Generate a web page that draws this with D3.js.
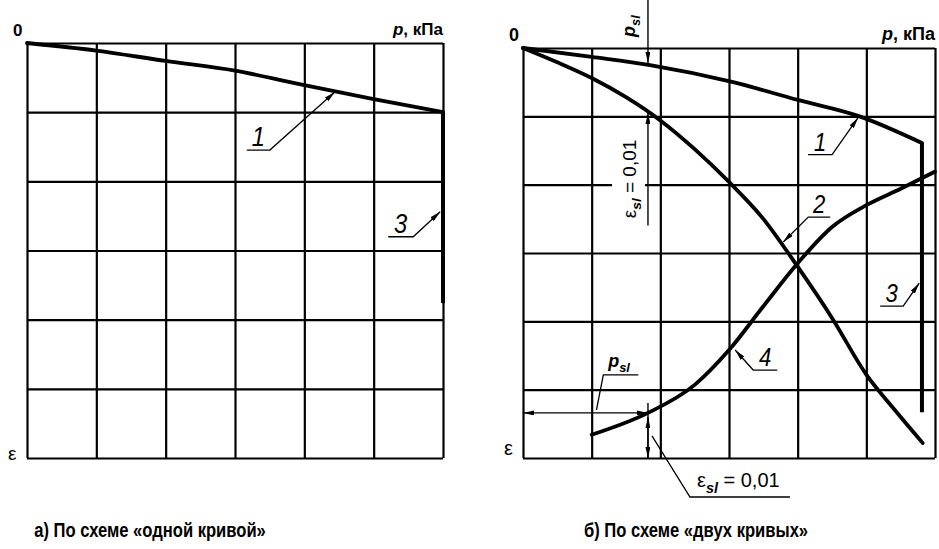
<!DOCTYPE html>
<html>
<head>
<meta charset="utf-8">
<script src="https://cdn.jsdelivr.net/npm/d3@7.9.0/dist/d3.min.js"></script>
<style>
  body { margin: 0; background: #fff; }
  svg { display: block; }
  text { font-family: "Liberation Sans", Arial, sans-serif; fill: #000; }
</style>
</head>
<body>
<svg id="chart" width="939" height="549"></svg>
<script>
// grid: 6 x 6 cells, values in grid units
const gridTicks = [0, 1, 2, 3, 4, 5, 6];

// panel a: one curve
const curveA1 = [[0, 0], [1, 0.11], [2, 0.26], [3, 0.40], [4, 0.61], [5, 0.81], [6, 1.0]];
const settleA3 = [[6, 1.0], [6, 3.76]];

// panel b: two curves
const curveB1 = [[0, 0], [1, 0.13], [1.85, 0.25], [3.06, 0.50], [4, 0.76], [4.9, 1.0], [5.81, 1.39]];
const settleB3 = [[5.81, 1.39], [5.81, 5.33]];
const curveB2 = [[0, 0], [0.5, 0.21], [1, 0.44], [1.5, 0.72], [2, 1.06], [2.5, 1.48], [3, 1.96], [3.5, 2.50],
  [4, 3.2], [4.5, 3.95], [5, 4.78], [5.4, 5.28], [5.82, 5.78]];
const curveB4 = [[1.0, 5.66], [1.82, 5.34], [2.5, 4.93], [3.0, 4.42], [3.5, 3.78], [4.0, 3.15], [4.5, 2.62],
  [5.0, 2.30], [5.5, 2.06], [6.0, 1.81]];

// p_sl and the strains read at it
const pSl = 1.82;
const epsB1AtPsl = 0.22;
const epsB2AtPsl = 0.95;
const epsB4AtPsl = 5.34;
const epsSlLength = 1.65; // length of the upper dimension line, grid units

// leader labels: tip in grid units, elbow offset (px), underline length (px)
const labelsA = [
  { text: '1', tip: [4.44, 0.71], elbow: [-65, 58], under: -23 },
  { text: '3', tip: [5.96, 2.44], elbow: [-27, 25], under: -25 }
];
const labelsB = [
  { text: '1', tip: [4.88, 1.02], elbow: [-26, 37], under: -24 },
  { text: '2', tip: [3.79, 2.84], elbow: [25, -25], under: 22 },
  { text: '3', tip: [5.77, 3.44], elbow: [-16, 23], under: -23 },
  { text: '4', tip: [3.09, 4.42], elbow: [18, 20], under: 24 }
];

const captions = ['а) По схеме «одной кривой»', 'б) По схеме «двух кривых»'];
const originLabel = '0';
const epsLabel = 'ε';
const unitLabel = ', кПа';

const svg = d3.select('#chart');

// arrow head
svg.append('defs').append('marker')
  .attr('id', 'arrow')
  .attr('viewBox', '0 0 11 5')
  .attr('refX', 11).attr('refY', 2.5)
  .attr('markerWidth', 11).attr('markerHeight', 5)
  .attr('markerUnits', 'userSpaceOnUse')
  .attr('orient', 'auto-start-reverse')
  .append('path')
  .attr('d', 'M0,0L11,2.5L0,5Z')
  .attr('fill', '#000');

function drawPanel(box, curves, settle, labels, caption, capX) {
  const g = svg.append('g');
  const x = d3.scaleLinear().domain([0, 6]).range([box.x0, box.x1]);
  const y = d3.scaleLinear().domain([0, 6]).range([box.y0, box.y1]);

  // grid
  g.append('g')
    .attr('transform', `translate(0,${box.y0})`)
    .call(d3.axisBottom(x).tickValues(gridTicks).tickSize(box.y1 - box.y0).tickFormat(''))
    .call(a => a.select('.domain').remove());
  g.append('g')
    .attr('transform', `translate(${box.x0},0)`)
    .call(d3.axisRight(y).tickValues(gridTicks).tickSize(box.x1 - box.x0).tickFormat(''))
    .call(a => a.select('.domain').remove());
  g.selectAll('.tick line').attr('stroke', '#000').attr('stroke-width', 2.2);

  const line = d3.line().x(d => x(d[0])).y(d => y(d[1])).curve(d3.curveMonotoneX);
  g.append('g').selectAll('path')
    .data(curves)
    .join('path')
    .attr('d', line)
    .attr('fill', 'none')
    .attr('stroke', '#000')
    .attr('stroke-width', 3.8)
    .attr('stroke-linecap', 'round');

  g.append('path')
    .attr('d', d3.line().x(d => x(d[0])).y(d => y(d[1]))(settle))
    .attr('fill', 'none')
    .attr('stroke', '#000')
    .attr('stroke-width', 4);

  // axis words
  g.append('text').attr('x', box.x0 - 14).attr('y', box.y0 - 7)
    .attr('font-size', box.fs).attr('font-weight', 'bold').text(originLabel);
  const u = g.append('text').attr('x', box.x1).attr('y', box.y0 - 8)
    .attr('text-anchor', 'end').attr('font-size', box.fs).attr('font-weight', 'bold');
  u.append('tspan').attr('font-style', 'italic').text('p');
  u.append('tspan').text(unitLabel);
  g.append('text').attr('x', box.x0 - 19).attr('y', box.epsY)
    .attr('font-size', box.fs + 2).text(epsLabel);

  // numbered leaders
  labels.forEach(l => {
    const tx = x(l.tip[0]), ty = y(l.tip[1]);
    const ex = tx + l.elbow[0], ey = ty + l.elbow[1];
    const ux = ex + l.under;
    g.append('path')
      .attr('d', `M${ux},${ey}L${ex},${ey}L${tx},${ty}`)
      .attr('fill', 'none').attr('stroke', '#000').attr('stroke-width', 1.3)
      .attr('marker-end', 'url(#arrow)');
    g.append('text')
      .attr('transform', `translate(${(ux + ex) / 2},${ey - 4}) scale(0.85,1)`)
      .attr('text-anchor', 'middle').attr('font-style', 'italic')
      .attr('font-size', box.numFs).text(l.text);
  });

  // caption, condensed
  svg.append('text')
    .attr('transform', `translate(${capX},537) scale(0.83,1)`)
    .attr('text-anchor', 'middle').attr('font-size', 20).attr('font-weight', 'bold')
    .text(caption);

  return { x, y, g };
}

const boxA = { x0: 27, x1: 443, y0: 43, y1: 458, fs: 17, epsY: 460, numFs: 28 };
const boxB = { x0: 523, x1: 935, y0: 48, y1: 458, fs: 18, epsY: 455, numFs: 26 };

drawPanel(boxA, [curveA1], settleA3, labelsA, captions[0], 150);
const pb = drawPanel(boxB, [curveB1, curveB2, curveB4], settleB3, labelsB, captions[1], 696);
const x = pb.x, y = pb.y, g = pb.g;

// dimension marks for p_sl and eps_sl
function subLabel(sel, main, sub, fs, italicMain) {
  sel.append('tspan').attr('font-style', italicMain ? 'italic' : 'normal').text(main);
  sel.append('tspan').attr('font-style', 'italic').attr('font-weight', 'bold')
    .attr('font-size', fs * 0.72).attr('dy', fs * 0.28).text(sub);
}

const xs = x(pSl);

// top: p_sl arrow down onto curve 1
g.append('line').attr('x1', xs).attr('x2', xs).attr('y1', 0).attr('y2', y(epsB1AtPsl))
  .attr('stroke', '#000').attr('stroke-width', 1.4).attr('marker-end', 'url(#arrow)');
const tp = g.append('text').attr('transform', `translate(${xs - 13},26) rotate(-90)`)
  .attr('text-anchor', 'middle').attr('font-size', 18).attr('font-weight', 'bold');
subLabel(tp, 'p', 'sl', 18, true);

// upper eps_sl dimension, text on white
g.append('rect').attr('x', xs - 36).attr('y', y(epsB2AtPsl) + 14).attr('width', 33).attr('height', 102)
  .attr('fill', '#fff');
g.append('line').attr('x1', xs).attr('x2', xs)
  .attr('y1', y(epsB2AtPsl) + epsSlLength * 68.3).attr('y2', y(epsB2AtPsl))
  .attr('stroke', '#000').attr('stroke-width', 1.4).attr('marker-end', 'url(#arrow)');
const te = g.append('text').attr('transform', `translate(${xs - 12},${y(epsB2AtPsl) + 66}) rotate(-90)`)
  .attr('text-anchor', 'middle').attr('font-size', 19);
subLabel(te, 'ε', 'sl', 19, false);
te.append('tspan').attr('dy', -19 * 0.28).text(' = 0,01');

// bottom: p_sl horizontal double arrow to curve 4
const yb = y(epsB4AtPsl);
g.append('line').attr('x1', x(0)).attr('x2', xs).attr('y1', yb).attr('y2', yb)
  .attr('stroke', '#000').attr('stroke-width', 1.4)
  .attr('marker-start', 'url(#arrow)').attr('marker-end', 'url(#arrow)');
g.append('line').attr('x1', xs).attr('x2', xs).attr('y1', yb - 10).attr('y2', y(6))
  .attr('stroke', '#000').attr('stroke-width', 1.4);
g.append('line').attr('x1', xs).attr('x2', xs).attr('y1', yb + 4).attr('y2', y(6))
  .attr('stroke', '#000').attr('stroke-width', 1.4)
  .attr('marker-start', 'url(#arrow)').attr('marker-end', 'url(#arrow)');

// p_sl leader
g.append('path').attr('d', `M${x(1.07)},${yb - 3}L${x(1.17)},${yb - 38}L${x(1.68)},${yb - 38}`)
  .attr('fill', 'none').attr('stroke', '#000').attr('stroke-width', 1.3);
const bp = g.append('text').attr('x', x(1.24)).attr('y', yb - 46)
  .attr('font-size', 18).attr('font-weight', 'bold');
subLabel(bp, 'p', 'sl', 18, true);

// eps_sl leader
const ly = y(6) + 39;
g.append('path').attr('d', `M${xs + 4},${yb + 23}L${xs + 42},${ly}L${xs + 142},${ly}`)
  .attr('fill', 'none').attr('stroke', '#000').attr('stroke-width', 1.3);
const be = g.append('text').attr('x', xs + 49).attr('y', ly - 10).attr('font-size', 20);
subLabel(be, 'ε', 'sl', 20, false);
be.append('tspan').attr('dy', -20 * 0.28).text(' = 0,01');
</script>
</body>
</html>
